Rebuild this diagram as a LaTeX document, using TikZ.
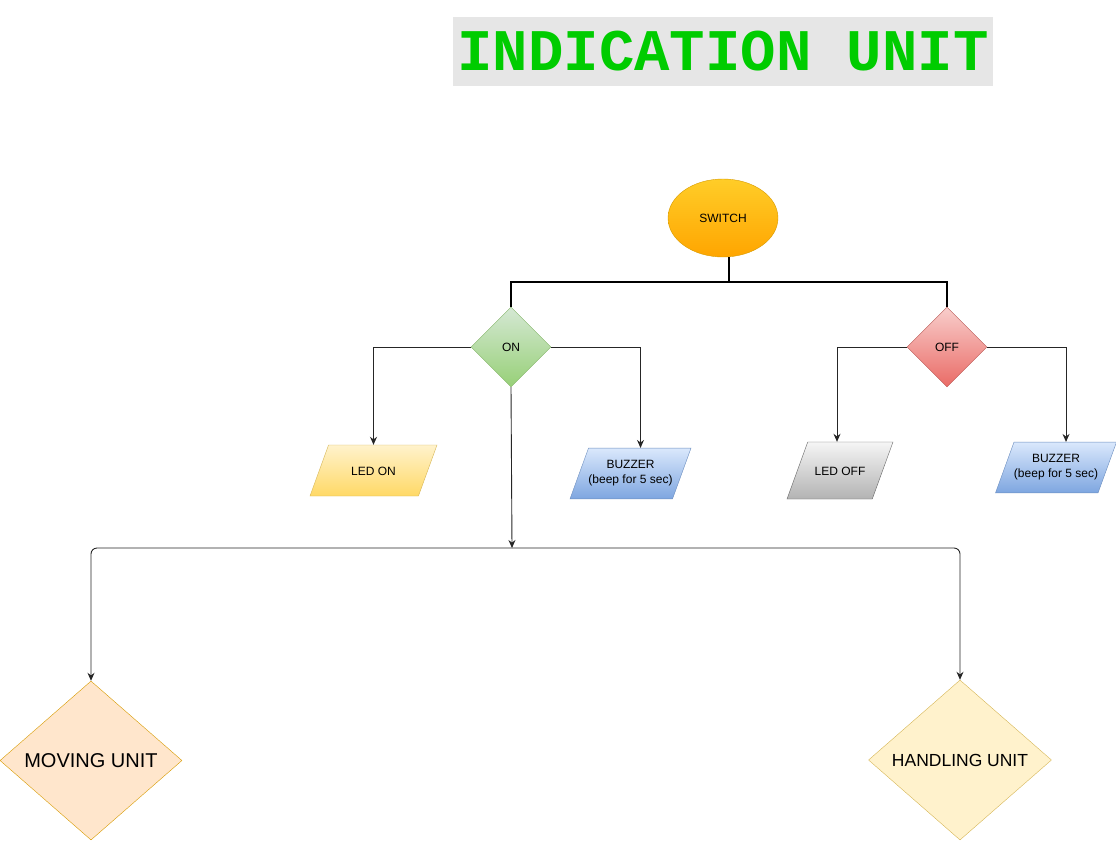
\documentclass[tikz,border=0pt]{standalone}
\usepackage{fontspec}
\setmainfont{Liberation Sans}
\newfontfamily\titlemono{Liberation Mono}
\usepackage{tikz}
\usetikzlibrary{shapes.geometric,arrows.meta}
\usepackage{xcolor}
\definecolor{titlegray}{HTML}{E6E6E6}
\definecolor{titlegreen}{HTML}{00CC00}
\newcommand{\unitcaption}[4][titlegray]{\node [fill=#1,minimum width=540,minimum height=69,inner sep=0,
  text=titlegreen,font=\titlemono\bfseries\fontsize{59}{59}\selectfont] (title) at (#2,#3) {#4};}
\tikzset{
  lbl/.style={font=\fontsize{12}{15}\selectfont,align=center},
  decision/.style={diamond,lbl,inner sep=0,minimum width=80,minimum height=80},
  output/.style={trapezium,trapezium left angle=70,trapezium right angle=110,
    trapezium stretches body,lbl,inner xsep=0},
  unit/.style={diamond,inner sep=0,font=\fontsize{20}{22}\selectfont},
  bus/.style={line width=2pt,line join=miter},
  link/.style={draw=black!85,line width=0.9pt,-{Stealth[length=8pt,width=7pt]}}
}

\begin{document}
\begin{tikzpicture}[x=1pt,y=-1pt]
        \useasboundingbox (0,0) rectangle (1116,841);
        \unitcaption{723}{51.5}{INDICATION UNIT}
        % switch and its two states
        \node[ellipse,lbl,minimum width=110,minimum height=78,draw={rgb,255:red,215;green,155;blue,0},
          top color={rgb,255:red,255;green,205;blue,40},bottom color={rgb,255:red,255;green,165;blue,0}] (sw) at (723,218) {SWITCH};
        \node[decision,draw={rgb,255:red,130;green,179;blue,102},
          top color={rgb,255:red,213;green,232;blue,212},bottom color={rgb,255:red,151;green,208;blue,119}] (on) at (511,347) {ON};
        \node[decision,draw={rgb,255:red,184;green,84;blue,80},
          top color={rgb,255:red,248;green,206;blue,204},bottom color={rgb,255:red,234;green,107;blue,102}] (off) at (947,347) {OFF};
        % outputs
        \node[output,minimum width=127,inner ysep=21,text height=9,text depth=0,draw={rgb,255:red,214;green,182;blue,86},
          top color={rgb,255:red,255;green,242;blue,204},bottom color={rgb,255:red,255;green,217;blue,102}] (ledon) at (373.5,470.5) {LED ON};
        \node[output,minimum width=117,inner ysep=12.5,draw={rgb,255:red,108;green,142;blue,191},
          top color={rgb,255:red,218;green,232;blue,252},bottom color={rgb,255:red,126;green,166;blue,224}] (buzon) at (630.5,473.5) {BUZZER\\(beep for 5 sec)};
        \node[output,minimum width=106,inner ysep=24,text height=9,text depth=0,draw={rgb,255:red,102;green,102;blue,102},
          top color={rgb,255:red,245;green,245;blue,245},bottom color={rgb,255:red,179;green,179;blue,179}] (ledoff) at (840,470.5) {LED OFF};
        \node[output,minimum width=118,inner ysep=12.5,draw={rgb,255:red,108;green,142;blue,191},
          top color={rgb,255:red,218;green,232;blue,252},bottom color={rgb,255:red,126;green,166;blue,224}] (buzoff) at (1056,467.5) {BUZZER\\(beep for 5 sec)};
        % units
        \node[unit,minimum width=182,minimum height=159,draw={rgb,255:red,215;green,155;blue,0},
          fill={rgb,255:red,255;green,230;blue,204}] (mu) at (91,760.5) {MOVING UNIT};
        \node[unit,minimum width=183,minimum height=160,font=\fontsize{17.5}{20}\selectfont,draw={rgb,255:red,214;green,182;blue,86},
          fill={rgb,255:red,255;green,242;blue,204}] (hu) at (960,760) {HANDLING UNIT};
        % connectors
        \coordinate (busline) at (729,282);
        \coordinate (split) at (512,548);
        \draw[bus] ([xshift=6pt]sw.south) -- (busline);
        \draw[bus] (on.north) -- (on.north |- busline) -- (off.north |- busline) -- (off.north);
        \draw[link] (on.west) -| (ledon.north);
        \draw[link] (on.east) -| ([xshift=10pt]buzon.north);
        \draw[link] (off.west) -| ([xshift=-3pt]ledoff.north);
        \draw[link] (off.east) -| ([xshift=10pt]buzoff.north);
        \draw[link] (on.south) -- (split);
        \draw[link,rounded corners=6] (split) -| (mu.north);
        \draw[link,rounded corners=6] (split) -| (hu.north);
      \end{tikzpicture}
\end{document}
